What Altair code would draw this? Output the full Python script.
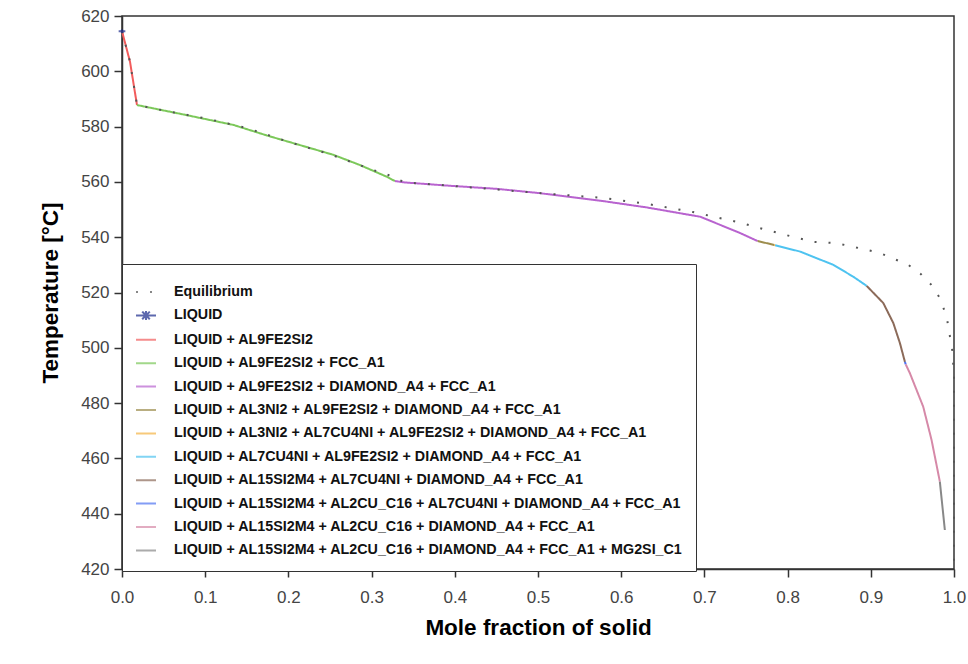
import altair as alt
import pandas as pd

# ---- data ----
phases = [
    "Equilibrium",
    "LIQUID",
    "LIQUID + AL9FE2SI2",
    "LIQUID + AL9FE2SI2 + FCC_A1",
    "LIQUID + AL9FE2SI2 + DIAMOND_A4 + FCC_A1",
    "LIQUID + AL3NI2 + AL9FE2SI2 + DIAMOND_A4 + FCC_A1",
    "LIQUID + AL3NI2 + AL7CU4NI + AL9FE2SI2 + DIAMOND_A4 + FCC_A1",
    "LIQUID + AL7CU4NI + AL9FE2SI2 + DIAMOND_A4 + FCC_A1",
    "LIQUID + AL15SI2M4 + AL7CU4NI + DIAMOND_A4 + FCC_A1",
    "LIQUID + AL15SI2M4 + AL2CU_C16 + AL7CU4NI + DIAMOND_A4 + FCC_A1",
    "LIQUID + AL15SI2M4 + AL2CU_C16 + DIAMOND_A4 + FCC_A1",
    "LIQUID + AL15SI2M4 + AL2CU_C16 + DIAMOND_A4 + FCC_A1 + MG2SI_C1",
]
colors = ["#555555", "#1a2a8c", "#f25c5c", "#7cc85a", "#b863cf", "#9c8c4c",
          "#f5b342", "#4ec3f0", "#8c6b5a", "#4f74f2", "#d689a8", "#888888"]

liquid_x = [0.0]
liquid_t = [614.5]

seg_x = [
    [0.0, 0.0096, 0.018],
    [0.018, 0.0376, 0.0737, 0.134, 0.174, 0.214, 0.254, 0.286, 0.318, 0.328],
    [0.328, 0.34, 0.394, 0.45, 0.5, 0.575, 0.63, 0.695, 0.743, 0.764],
    [0.764, 0.784],
    [0.784, 0.785],
    [0.785, 0.815, 0.855, 0.879, 0.895],
    [0.895, 0.915, 0.927, 0.935, 0.941],
    [0.941, 0.942],
    [0.942, 0.947, 0.963, 0.973, 0.983],
    [0.983, 0.989],
]
seg_t = [
    [614.5, 603.5, 587.8],
    [587.8, 586.6, 584.4, 580.6, 576.8, 573.3, 569.8, 566.1, 561.9, 560.3],
    [560.3, 559.8, 558.6, 557.5, 556.0, 553.2, 550.8, 547.4, 541.5, 538.6],
    [538.6, 537.2],
    [537.2, 537.1],
    [537.1, 534.8, 530.0, 525.7, 522.4],
    [522.4, 516.2, 509.0, 501.7, 494.9],
    [494.9, 494.0],
    [494.0, 490.8, 478.7, 466.7, 451.6],
    [451.6, 434.1],
]

eq_x = [0.0, 0.0096, 0.018, 0.05, 0.1, 0.15, 0.2, 0.25, 0.3, 0.32, 0.34, 0.4, 0.5,
        0.578, 0.632, 0.686, 0.740, 0.775, 0.807, 0.831, 0.857, 0.875, 0.911, 0.929,
        0.945, 0.960, 0.973, 0.983, 0.989, 0.992, 0.995, 0.998, 1.0, 1.0]
eq_t = [614.5, 603.5, 587.8, 585.8, 583.0, 579.5, 574.5, 570.0, 564.5, 562.5, 559.8,
        558.5, 556.0, 554.2, 552.0, 549.1, 545.5, 542.6, 540.1, 538.3, 537.9, 536.8,
        534.3, 532.0, 530.0, 526.7, 522.7, 518.0, 513.0, 509.7, 504.3, 499.0, 490.0, 420.0]

x_ticks = [round(i * 0.1, 1) for i in range(11)]
y_ticks = list(range(420, 621, 20))

# ---- tables ----
rows = []
for i, (xs, ts) in enumerate(zip(seg_x, seg_t)):
    for j, (x, t) in enumerate(zip(xs, ts)):
        rows.append({"phase": phases[i + 2], "x": x, "T": t, "o": j})
for j, (x, t) in enumerate(zip(eq_x, eq_t)):
    rows.append({"phase": phases[0], "x": x, "T": t, "o": j})
lines_df = pd.DataFrame(rows)
pt_df = pd.DataFrame({"phase": [phases[1]] * len(liquid_x), "x": liquid_x, "T": liquid_t})

dashes = [[2, 12]] + [[1, 0]] * (len(phases) - 1)
star = "M-1,0H1M-0.38,-0.38L0.38,0.38M-0.38,0.38L0.38,-0.38M0,-0.45V0.45"
shapes = ["stroke", star] + ["stroke"] * (len(phases) - 2)

xs = alt.X("x:Q", scale=alt.Scale(domain=[0, 1], nice=False),
           axis=alt.Axis(values=x_ticks, format=".1f", title="Mole fraction of solid"))
ys = alt.Y("T:Q", scale=alt.Scale(domain=[420, 620], nice=False, zero=False),
           axis=alt.Axis(values=y_ticks, format="d", title="Temperature [°C]"))
color = alt.Color("phase:N", scale=alt.Scale(domain=phases, range=colors), title=" ")

lines = alt.Chart(lines_df).mark_line(strokeWidth=2).encode(
    x=xs, y=ys, color=color,
    strokeDash=alt.StrokeDash("phase:N", scale=alt.Scale(domain=phases, range=dashes), title=" "),
    order="o:Q",
)
pts = alt.Chart(pt_df).mark_point(filled=False, size=45, strokeWidth=2).encode(
    x=xs, y=ys, color=color,
    shape=alt.Shape("phase:N", scale=alt.Scale(domain=phases, range=shapes), title=" "),
)

chart = alt.layer(lines, pts).properties(
    width=832, height=553,
    autosize=alt.AutoSizeParams(type="none"),
    padding={"left": 122, "top": 16, "right": 14, "bottom": 95},
).configure_view(
    stroke="#333333", strokeWidth=1.5
).configure_axis(
    grid=False, domainColor="#333333", domainWidth=1.5, tickColor="#333333",
    tickWidth=1.5, tickSize=8, labelFont="Liberation Sans", labelFontSize=17,
    labelColor="#444444", titleFont="Liberation Sans", titleFontSize=22.5,
    titleFontWeight="bold", titleColor="#000000", labelFlush=False,
).configure_axisX(
    labelPadding=12, titlePadding=11,
).configure_axisY(
    labelPadding=5, titlePadding=18,
).configure_legend(
    orient="none", legendX=0, legendY=248, strokeColor="#333333",
    fillColor="white", padding=13, rowPadding=4.4, labelFont="Liberation Sans",
    labelFontSize=14.3, labelFontWeight="bold", labelColor="#111111", labelLimit=700,
    symbolSize=400, symbolStrokeWidth=2, labelOffset=17,
    titleFontSize=2, titlePadding=2,
)

chart.save("out.html", embed_options={"renderer": "svg", "actions": False})
